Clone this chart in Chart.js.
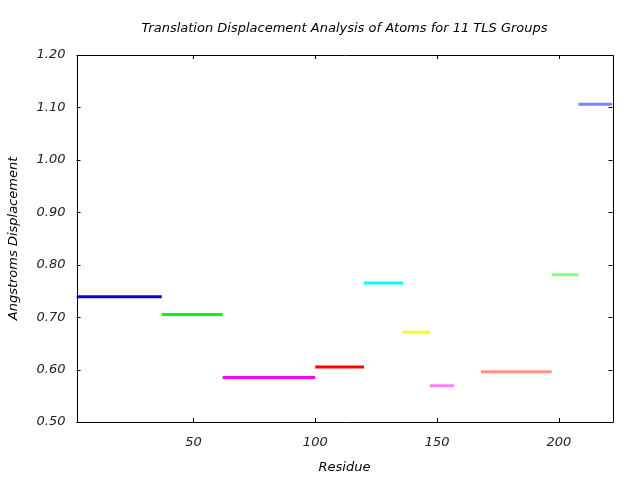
<!DOCTYPE html>
<html>
<head>
<meta charset="utf-8">
<script src="https://cdn.jsdelivr.net/npm/chart.js@4.4.1/dist/chart.umd.min.js"></script>
<style>
html,body{margin:0;padding:0;background:#fff;}
#wrap{width:640px;height:480px;}
</style>
</head>
<body>
<div id="wrap"><canvas id="c" width="640" height="480"></canvas></div>
<script>
// TLS group residue ranges (start, end) and translation displacement values
const groupStarts = [2, 37, 62, 100, 120, 136, 147, 168, 197, 208];
const groupEnds   = [37, 62, 100, 120, 136, 147, 157, 197, 208, 222];
const displacement = [0.739, 0.705, 0.585, 0.605, 0.765, 0.671, 0.569, 0.596, 0.781, 1.106];
const groupColors = ['#0000e0', '#00ff00', '#ff00ff', '#ff0000', '#00ffff', '#ffff00', '#ff80ff', '#ff9575', '#80ff80', '#8080ff'];
const xTickValues = [50, 100, 150, 200];
const yTickValues = [0.5, 0.6, 0.7, 0.8, 0.9, 1.0, 1.1, 1.2];
const chartTitle = 'Translation Displacement Analysis of Atoms for 11 TLS Groups';

const datasets = groupStarts.map((s, i) => ({
  label: 'Group ' + (i + 1),
  data: [{x: s, y: displacement[i]}, {x: groupEnds[i], y: displacement[i]}],
  showLine: true,
  borderColor: groupColors[i],
  backgroundColor: groupColors[i],
  borderWidth: 3,
  pointRadius: 0,
  borderCapStyle: 'butt',
  xAxisID: 'x',
  yAxisID: 'y'
}));

const FONT = 'DejaVu Sans';

const framePlugin = {
  id: 'frame',
  afterDraw(chart) {
    const {ctx, chartArea: a, scales} = chart;
    ctx.save();
    ctx.strokeStyle = '#000';
    ctx.lineWidth = 1;
    ctx.beginPath();
    ctx.rect(Math.round(a.left) + 0.5, Math.round(a.top) + 0.5, Math.round(a.right - a.left), Math.round(a.bottom - a.top));
    ctx.stroke();
    const L = 4;
    ctx.beginPath();
    xTickValues.forEach(v => {
      const x = Math.round(scales.x.getPixelForValue(v)) + 0.5;
      ctx.moveTo(x, a.bottom); ctx.lineTo(x, a.bottom - L);
      ctx.moveTo(x, a.top); ctx.lineTo(x, a.top + L);
    });
    yTickValues.forEach(v => {
      const y = Math.round(scales.y.getPixelForValue(v)) + 0.5;
      ctx.moveTo(a.left, y); ctx.lineTo(a.left + L, y);
      ctx.moveTo(a.right, y); ctx.lineTo(a.right - L, y);
    });
    ctx.stroke();
    ctx.restore();
  }
};

new Chart(document.getElementById('c'), {
  type: 'scatter',
  data: {datasets},
  options: {
    responsive: false,
    animation: false,
    layout: {padding: {left: 0, right: 27.5, top: 0, bottom: 0}},
    plugins: {
      legend: {display: false},
      tooltip: {enabled: false},
      title: {display: false}
    },
    scales: {
      x: {
        type: 'linear',
        position: 'bottom',
        min: 2, max: 222,
        grid: {display: false, drawTicks: false},
        border: {display: false},
        afterFit(s) { s.height = 58; },
        afterBuildTicks(s) { s.ticks = xTickValues.map(v => ({value: v})); },
        ticks: {
          color: '#222',
          padding: 13,
          font: {family: FONT, size: 13, style: 'italic'},
          callback: v => String(v)
        },
        title: {
          display: true, text: 'Residue', color: '#000',
          font: {family: FONT, size: 13, style: 'italic'},
          padding: {top: 0, bottom: 5}
        }
      },
      xTop: {
        type: 'linear',
        position: 'top',
        min: 2, max: 222,
        grid: {display: false, drawTicks: false},
        border: {display: false},
        ticks: {display: false},
        afterFit(s) { s.height = 55; },
        title: {
          display: true, text: chartTitle, color: '#000',
          font: {family: FONT, size: 13, style: 'italic'},
          padding: {top: 21, bottom: 0}
        }
      },
      y: {
        type: 'linear',
        position: 'left',
        min: 0.5, max: 1.2,
        grid: {display: false, drawTicks: false},
        border: {display: false},
        afterFit(s) { s.width = 76.5; },
        afterBuildTicks(s) { s.ticks = yTickValues.map(v => ({value: v})); },
        ticks: {
          color: '#222',
          padding: 11,
          font: {family: FONT, size: 13, style: 'italic'},
          callback: v => Number(v).toFixed(2)
        },
        title: {
          display: true, text: 'Angstroms Displacement', color: '#000',
          font: {family: FONT, size: 13, style: 'italic'},
          padding: {top: 6, bottom: 0}
        }
      }
    }
  },
  plugins: [framePlugin]
});
</script>
</body>
</html>
